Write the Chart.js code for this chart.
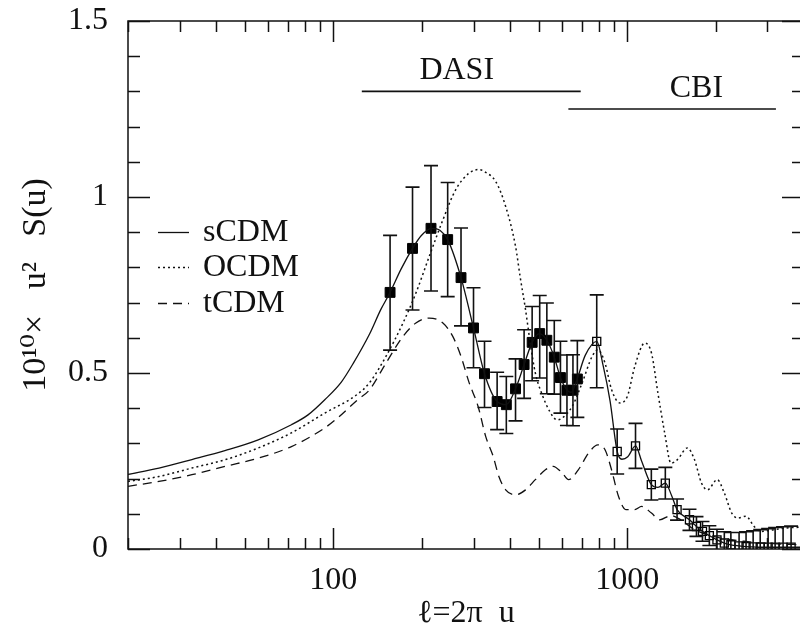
<!DOCTYPE html>
<html>
<head>
<meta charset="utf-8">
<script src="https://cdn.jsdelivr.net/npm/chart.js@4.4.1/dist/chart.umd.min.js"></script>
<style>
html,body{margin:0;padding:0;background:#fff;overflow:hidden}
#wrap{width:800px;height:632px;overflow:hidden;position:relative;background:#fff}
#c{position:absolute;left:0;top:0}
</style>
</head>
<body>
<div id="wrap"><canvas id="c" width="812" height="632"></canvas></div>
<script>
// ---- data ----
const sCDM_l = [20,25.5,33,43,55.5,72,82,93.5,106.6,117,132.7,145,156,170,186,199,215.6,231,245,272,300,327,361,388,417,446,475,503,533,565,593,625,645,676,720,788,829,875,925,960,1005,1068,1120,1209,1273,1349,1420,1479,1630,1722,1805,1905,2022,2142,2255,2405,2540,2685,2838,3020,3190,3395,3615,4000];
const sCDM_v = [0.212,0.230,0.254,0.280,0.310,0.353,0.381,0.424,0.475,0.528,0.610,0.680,0.729,0.795,0.854,0.890,0.911,0.905,0.879,0.771,0.628,0.498,0.419,0.410,0.455,0.524,0.587,0.612,0.593,0.545,0.487,0.451,0.445,0.483,0.550,0.590,0.520,0.420,0.277,0.255,0.262,0.293,0.250,0.183,0.175,0.187,0.150,0.112,0.083,0.064,0.050,0.038,0.026,0.017,0.012,0.009,0.007,0.006,0.005,0.005,0.005,0.005,0.005,0.005];

const OCDM_l = [20,25.5,33,43,55.5,72,93.5,121,132.7,151,172.6,191,212,236,261,290,313,330,357,386,417,433,451,469,487,513,546,577,601,650,703,760,795,841,885,945,1002,1062,1148,1210,1273,1342,1410,1483,1603,1695,1790,1877,2026,2142,2270,2380,2540,2706,2860,3162,3500,4000];
const OCDM_v = [0.192,0.206,0.230,0.254,0.287,0.330,0.386,0.440,0.472,0.547,0.642,0.727,0.831,0.935,1.021,1.068,1.078,1.070,1.044,0.973,0.860,0.770,0.680,0.580,0.500,0.440,0.390,0.367,0.372,0.405,0.472,0.547,0.566,0.528,0.453,0.415,0.434,0.519,0.585,0.557,0.443,0.330,0.244,0.254,0.287,0.254,0.188,0.168,0.197,0.159,0.102,0.088,0.093,0.064,0.050,0.055,0.060,0.062];

const tCDM_l = [20,25.5,33,43,55.5,72,93.5,102.6,121,132.7,151,172.6,191,212,236,255,272,290,311,330,350,366,386,417,451,487,527,560,601,632,682,740,795,841,885,935,990,1062,1120,1210,1290,1410,1510,1695,1980,2500,3162,4000];
const tCDM_v = [0.178,0.192,0.211,0.235,0.258,0.291,0.344,0.370,0.424,0.452,0.528,0.604,0.642,0.656,0.642,0.604,0.547,0.472,0.405,0.320,0.263,0.206,0.168,0.154,0.168,0.197,0.225,0.235,0.216,0.197,0.225,0.273,0.296,0.282,0.225,0.149,0.112,0.112,0.121,0.102,0.083,0.095,0.085,0.055,0.035,0.022,0.015,0.012];

const dasiL  = [156,186,215,245,272,300,327,361,388,417,446,475,504,533,565,593,624,654,677];
const dasiV  = [0.729,0.854,0.911,0.879,0.771,0.628,0.498,0.419,0.410,0.455,0.524,0.587,0.612,0.593,0.545,0.487,0.451,0.451,0.483];
const dasiLo = [0.565,0.679,0.733,0.717,0.634,0.515,0.402,0.339,0.328,0.364,0.428,0.478,0.486,0.441,0.440,0.386,0.351,0.350,0.374];
const dasiHi = [0.891,1.028,1.089,1.041,0.912,0.742,0.590,0.502,0.490,0.540,0.623,0.689,0.720,0.699,0.649,0.590,0.551,0.552,0.592];

const cbiL   = [788,925,1068,1209,1349,1479,1630,1722,1805,1905,2022,2142,2255,2405,2540,2685,2838,3020,3190,3395,3615];
const cbiV   = [0.590,0.277,0.293,0.183,0.187,0.112,0.083,0.064,0.050,0.038,0.026,0.017,0.012,0.009,0.007,0.006,0.005,0.005,0.005,0.005,0.005];
const cbiErr = [0.132,0.064,0.064,0.044,0.045,0.030,0.030,0.028,0.028,0.028,0.030,0.032,0.035,0.038,0.042,0.046,0.050,0.053,0.056,0.058,0.060];

const dasiRange = [125, 695]; const dasiLevel = 1.30;
const cbiRange  = [631, 3210]; const cbiLevel = 1.25;

const xTickValues = [100, 1000];
const xTickLabels = ['100', '1000'];
const xMinorTicks = [20,30,40,50,60,70,80,90,200,300,400,500,600,700,800,900,2000,3000,4000];
const yTickValues = [0, 0.5, 1, 1.5];
const yTickLabels = ['0', '0.5', '1', '1.5'];

const seriesNames = ['sCDM', 'OCDM', 'tCDM'];
const xTitle = 'ℓ=2π  u';
const yTitle = '10¹⁰×   u²   S(u)';

// ---- rendering ----
const FONT = "'Liberation Serif', 'DejaVu Serif', serif";
const INK = '#111';
const pts = (xs, ys) => xs.map((x, i) => ({x, y: ys[i]}));

const frameTicks = {
  id: 'frameTicks',
  afterDatasetsDraw(chart) {
    const {ctx, chartArea: a, scales: {x, y}} = chart;
    ctx.save();
    ctx.strokeStyle = INK;
    ctx.lineWidth = 1.5;
    ctx.strokeRect(a.left, a.top, a.right - a.left, a.bottom - a.top);
    ctx.beginPath();
    const xt = xMinorTicks.map(v => [v, 11]).concat(xTickValues.map(v => [v, 21]));
    xt.forEach(([v, len]) => {
      const px = Math.round(x.getPixelForValue(v)) + 0.5;
      ctx.moveTo(px, a.bottom); ctx.lineTo(px, a.bottom - len);
      ctx.moveTo(px, a.top); ctx.lineTo(px, a.top + len);
    });
    for (let k = 0; k <= 15; k++) {
      const v = k / 10;
      const py = Math.round(y.getPixelForValue(v)) + 0.5;
      const len = (k % 5 === 0) ? 22 : 12;
      ctx.moveTo(a.left, py); ctx.lineTo(a.left + len, py);
      ctx.moveTo(a.right, py); ctx.lineTo(a.right - len, py);
    }
    ctx.stroke();
    ctx.restore();
  }
};

const errorBars = {
  id: 'errorBars',
  afterDatasetsDraw(chart) {
    const {ctx, chartArea: a, scales: {x, y}} = chart;
    ctx.save();
    ctx.beginPath();
    ctx.rect(a.left, a.top, a.right - a.left, a.bottom - a.top);
    ctx.clip();
    ctx.strokeStyle = INK;
    ctx.lineWidth = 1.6;
    ctx.beginPath();
    const bar = (l, lo, hi) => {
      const px = x.getPixelForValue(l);
      const p1 = y.getPixelForValue(lo), p2 = y.getPixelForValue(hi);
      ctx.moveTo(px, p1); ctx.lineTo(px, p2);
      ctx.moveTo(px - 7, p1); ctx.lineTo(px + 7, p1);
      ctx.moveTo(px - 7, p2); ctx.lineTo(px + 7, p2);
    };
    dasiL.forEach((l, i) => bar(l, dasiLo[i], dasiHi[i]));
    cbiL.forEach((l, i) => bar(l, cbiV[i] - cbiErr[i], cbiV[i] + cbiErr[i]));
    ctx.stroke();
    ctx.restore();
  }
};

const annotations = {
  id: 'annotations',
  afterDraw(chart) {
    const {ctx, scales: {x, y}} = chart;
    ctx.save();
    ctx.fillStyle = INK;
    ctx.strokeStyle = INK;
    ctx.font = '32px ' + FONT;
    ctx.textBaseline = 'middle';
    ctx.textAlign = 'center';
    ctx.fillText('DASI', x.getPixelForValue(263), y.getPixelForValue(1.359));
    ctx.fillText('CBI', x.getPixelForValue(1721), y.getPixelForValue(1.308));
    // legend
    ctx.textAlign = 'left';
    const rows = [232, 267, 303];
    [0, 1, 2].forEach(i => {
      const ds = chart.data.datasets[i];
      ctx.beginPath();
      ctx.lineWidth = ds.borderWidth;
      ctx.setLineDash(ds.borderDash || []);
      ctx.moveTo(158, rows[i] + 0.5); ctx.lineTo(189, rows[i] + 0.5);
      ctx.stroke();
      ctx.setLineDash([]);
      ctx.fillText(ds.label, 203, rows[i] + 1);
    });
    ctx.restore();
  }
};

new Chart(document.getElementById('c'), {
  type: 'line',
  data: {
    datasets: [
      {label: seriesNames[0], data: pts(sCDM_l, sCDM_v), borderColor: INK, borderWidth: 1.3, pointRadius: 0, cubicInterpolationMode: 'monotone', fill: false},
      {label: seriesNames[1], data: pts(OCDM_l, OCDM_v), borderColor: INK, borderWidth: 1.5, borderDash: [2, 3], pointRadius: 0, cubicInterpolationMode: 'monotone', fill: false},
      {label: seriesNames[2], data: pts(tCDM_l, tCDM_v), borderColor: INK, borderWidth: 1.3, borderDash: [9, 6], pointRadius: 0, cubicInterpolationMode: 'monotone', fill: false},
      {label: 'DASI', data: pts(dasiL, dasiV), showLine: false, pointStyle: 'rect', pointRadius: 7, pointBackgroundColor: '#000', pointBorderColor: '#000', pointBorderWidth: 1},
      {label: 'CBI', data: pts(cbiL, cbiV), showLine: false, pointStyle: 'rect', pointRadius: 5.7, pointBackgroundColor: 'rgba(0,0,0,0)', pointBorderColor: '#000', pointBorderWidth: 1.3},
      {label: 'DASI range', data: [{x: dasiRange[0], y: dasiLevel}, {x: dasiRange[1], y: dasiLevel}], borderColor: INK, borderWidth: 1.6, pointRadius: 0},
      {label: 'CBI range', data: [{x: cbiRange[0], y: cbiLevel}, {x: cbiRange[1], y: cbiLevel}], borderColor: INK, borderWidth: 1.6, pointRadius: 0}
    ]
  },
  options: {
    responsive: false,
    animation: false,
    devicePixelRatio: 1,
    layout: {padding: {top: 21, right: 2, left: 0, bottom: 0}},
    plugins: {legend: {display: false}, tooltip: {enabled: false}},
    scales: {
      x: {
        type: 'logarithmic', min: 20, max: 4000,
        grid: {display: false, drawTicks: false},
        border: {display: false},
        afterBuildTicks: s => { s.ticks = xTickValues.map(v => ({value: v})); },
        afterFit: s => { s.height = 83; s.paddingLeft = 0; s.paddingRight = 0; },
        ticks: {
          autoSkip: false, maxRotation: 0, padding: 12, color: INK,
          font: {family: FONT, size: 32},
          callback: v => xTickLabels[xTickValues.indexOf(v)] || ''
        },
        title: {display: true, text: xTitle, color: INK, font: {family: FONT, size: 32, lineHeight: 1}, padding: {top: 0, bottom: 2}}
      },
      y: {
        type: 'linear', min: 0, max: 1.5,
        grid: {display: false, drawTicks: false},
        border: {display: false},
        afterBuildTicks: s => { s.ticks = yTickValues.map(v => ({value: v})); },
        afterFit: s => { s.width = 128; s.paddingTop = 0; s.paddingBottom = 0; },
        ticks: {
          padding: 20, color: INK,
          font: {family: FONT, size: 32},
          callback: v => yTickLabels[yTickValues.indexOf(v)] || ''
        },
        title: {display: true, text: yTitle, color: INK, font: {family: FONT, size: 34, lineHeight: 1}, padding: {top: 19, bottom: 0}}
      }
    }
  },
  plugins: [frameTicks, errorBars, annotations]
});
</script>
</body>
</html>
